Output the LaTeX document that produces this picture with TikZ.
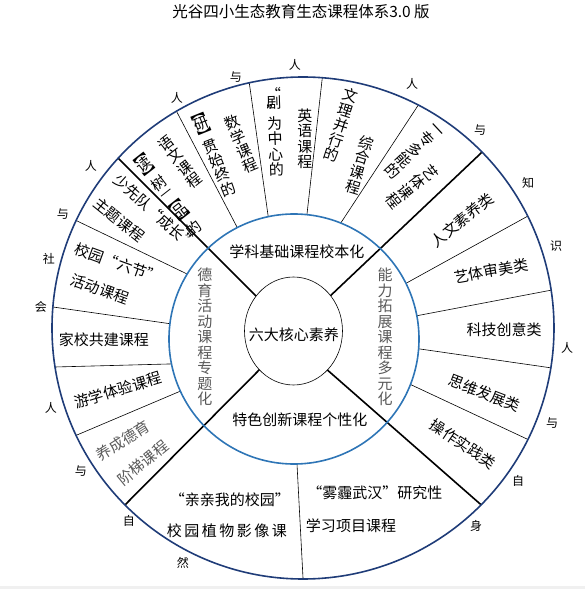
\documentclass[tikz,border=0pt]{standalone}
\usepackage{fontspec}
\setmainfont{Noto Sans CJK SC}
\definecolor{ringnavy}{HTML}{1F3C78}
\definecolor{bandblue}{HTML}{2E75B6}
\definecolor{softgray}{HTML}{595959}
\begin{document}
\begin{tikzpicture}[x=1pt,y=1pt]
        \tikzstyle{every node}=[inner sep=0pt, font=\fontsize{15}{15.5}\selectfont];
        \tikzstyle{ring}=[font=\fontsize{12}{12}\selectfont];
        \tikzstyle{vcol}=[align=center];
        \tikzstyle{dim}=[text=softgray];
        \tikzstyle{thin line}=[line width=0.6pt];
        \tikzstyle{thick line}=[line width=1.6pt];
        \useasboundingbox (-293,-256) rectangle (292,333);
        \fill[gray!12] (-293,-256) rectangle (292,-253);
        \coordinate (o) at (10,5);
        \coordinate (b) at (1,-6);
        \coordinate (c) at (0.5,2);
        \begin{scope}[even odd rule]
            \clip (o) circle [radius=251] (b) circle [radius=125];
            \foreach \xa/\ya/\xb/\yb in {-125/238/-38/71.5, -45.7/264/-19.6/80, 31.3/273/9.5/78.8, 134.4/241.8/34.3/89.5,
                252.4/126.6/84.2/33.8, 277.9/46.6/95.2/11.8, 277.8/-37.7/96.5/-11.6, 250.4/-113.7/92.3/-39.7,
                -234.5/121/-75/44.1, -256.8/28.4/-94.4/5.2, -257/-34.5/-90.5/-30.1, -230.9/-108.3/-87.3/-47.4, 10.9/-262/2.2/-96.8}
                \draw[thin line] (\xa,\ya) -- (\xb,\yb);
        \end{scope}
        \begin{scope}[even odd rule]
            \clip (o) circle [radius=251] (c) ellipse [x radius=49, y radius=54];
            \foreach \xa/\ya/\xb/\yb in {-196/196/-15/15, 205/196/15/16, -185/-189/-15/-18, 210/-191/15/-20}
                \draw[thick line] (\xa,\ya) -- (\xb,\yb);
        \end{scope}
        \draw[ringnavy, line width=1.6pt] (o) circle [radius=251];
        \draw[bandblue, line width=1.6pt] (b) circle [radius=125];
        \draw[line width=0.6pt] (c) ellipse [x radius=49, y radius=54];
        \node[font=\fontsize{15.5}{16}\selectfont] (title) at (8,321) {光谷四小生态教育生态课程体系3.0 版};
        \node (core) at (1,-2) {六大核心素养};
        \node (base) at (4,81) {学科基础课程校本化};
        \node (special) at (7,-87) {特色创新课程个性化};
        \node[vcol, dim] (moral) at (-88,-4) {德\\育\\活\\动\\课\\程\\专\\题\\化};
        \node[vcol, dim] (ability) at (92,-4) {能\\力\\拓\\展\\课\\程\\多\\元\\化};
        \node[vcol, rotate=38] (chinese) at (-125,138) {︻\\[-3pt]读\\[-3pt]︼\\[-4pt]树\\[-5pt]—\\[-5pt]︻\\[-3pt]品\\[-3pt]︼\\[-5pt]的};
        \node[vcol, rotate=38] (chinesecourse) at (-113,171) {语\\文\\课\\程};
        \node[vcol, rotate=22] (mathfocus) at (-79,178) {︻\\[-3pt]研\\[-3pt]︼\\[-4pt]贯\\始\\终\\的};
        \node[vcol, rotate=23] (mathcourse) at (-52,189) {数\\学\\课\\程};
        \node[vcol, rotate=2] (englishfocus) at (-18,201) {“\\[-8pt]剧\\[-6pt]”\\[-4pt]为\\中\\心\\的};
        \node[vcol] (englishcourse) at (12,194) {英\\语\\课\\程};
        \node[vcol, rotate=-18] (mixfocus) at (48,208) {文\\理\\并\\行\\的};
        \node[vcol, rotate=-17] (mixcourse) at (67,168) {综\\合\\课\\程};
        \node[vcol, rotate=-47] (artfocus) at (120,181) {一\\专\\多\\能\\的};
        \node[vcol, rotate=-52] (artcourse) at (119,146) {艺\\体\\课\\程};
        \node[rotate=39] (humanity) at (169,113) {人文素养类};
        \node[rotate=10] (aesthetic) at (198,62) {艺体审美类};
        \node (science) at (211,3) {科技创意类};
        \node[rotate=-21] (thinking) at (192,-60) {思维发展类};
        \node[rotate=-34] (practice) at (170,-111) {操作实践类};
        \node[rotate=-42] (pioneer) at (-138,121) {少先队“成长”};
        \node[rotate=-39] (pioneertheme) at (-174,113) {主题课程};
        \node[rotate=-20] (festival) at (-175,70) {校园“六节”};
        \node[rotate=-20] (festivalcourse) at (-193,44) {活动课程};
        \node (homeschool) at (-189,-7) {家校共建课程};
        \node[rotate=17] (study) at (-175,-57) {游学体验课程};
        \node[rotate=32, dim] (habit) at (-170,-108) {养成德育};
        \node[rotate=39, dim] (habitcourse) at (-150,-130) {阶梯课程};
        \node (campus) at (-63,-167) {“亲亲我的校园”};
        \node (plants) at (-66,-198) {校\,园\,植\,物\,影\,像\,课};
        \node (smog) at (82,-160) {“雾霾武汉”研究性};
        \node (project) at (58,-193) {学习项目课程};
        \foreach \x/\y/\t [count=\i] in {2/268/人, -57/256/与, -116/235/人, -202/167/人, -230/119/与, -244/74/社, -252/26/会,
            -242/-75/人, -212/-138/与, -164/-188/自, -110/-230/然, 119/249/人, 187/203/与, 235/150/知, 263/87/识,
            274/-15/人, 259/-90/与, 225/-148/自, 183/-193/身}
            \node[ring] (ring\i) at (\x,\y) {\t};
\end{tikzpicture}
\end{document}
